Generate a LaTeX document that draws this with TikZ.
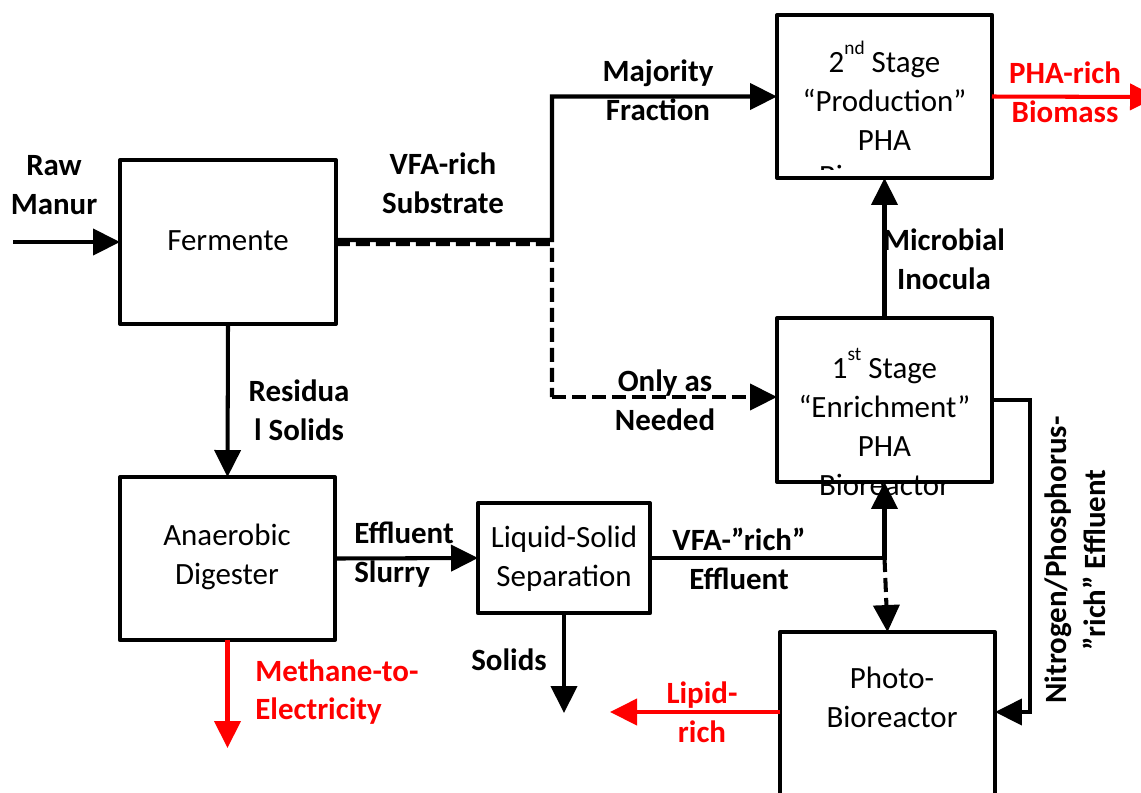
\documentclass[tikz,border=0pt]{standalone}
\usepackage{fontspec}
\setmainfont{Carlito}
\usetikzlibrary{arrows.meta}
\definecolor{flowred}{RGB}{255,0,0}
\newcommand{\supx}[1]{\raisebox{0.58em}{\fontsize{11pt}{11pt}\selectfont #1}}
\begin{document}
\begin{tikzpicture}[x=0.02cm,y=-0.02cm,
  box/.style={draw,line width=2.4pt,inner sep=0,outer sep=0,line join=round,minimum width=4.3cm},
  txt/.style={font=\fontsize{17.6pt}{22.1pt}\selectfont,align=center,inner sep=0},
  lbl/.style={font=\fontsize{17.6pt}{22.1pt}\selectfont\bfseries,align=center,inner sep=0},
  flow/.style={line width=2.3pt,-{Triangle[length=0.54cm,width=0.52cm]}},
  rflow/.style={line width=2.3pt,draw=flowred,-{Triangle[length=0.54cm,width=0.52cm]}},
  dashline/.style={dash pattern=on 0.28cm off 0.12cm}
]
\useasboundingbox[fill=white] (0,0) rectangle (1141,792);

% boxes
\node[box,minimum width=4.32cm,minimum height=3.28cm] (ferm) at (228,242) {};
\node[box,minimum height=3.26cm] (p2) at (884.5,96.5) {};
\node[box,minimum height=3.28cm] (p1) at (884.5,400) {};
\node[box,minimum height=3.26cm] (ad) at (227.5,558.5) {};
\node[box,minimum width=3.44cm,minimum height=2.2cm] (ls) at (564,558) {};
\node[box,minimum height=4cm] (photo) at (887.5,732) {};

% coordinates
\coordinate (rawin) at (13,242);
\coordinate (j1) at (552,240);
\coordinate (j3) at (552,244);
\coordinate (j4) at (884.5,558);
\coordinate (solend) at (564,713);
\coordinate (lipend) at (610,712);
\coordinate (meth) at (229,748);
\coordinate (phaend) at (1157,97);
\coordinate (n1) at (1030,400);
\coordinate (n2) at (1030,712);

% connectors
\draw[flow] (rawin) -- (ferm.west);
\draw[line width=2.3pt,dashline] ([yshift=-0.04cm]ferm.east) -- (j3) -- ([yshift=0.06cm]j3 |- p1.west);
\draw[flow,dashline] ([yshift=0.06cm]j3 |- p1.west) -- ([yshift=0.06cm]p1.west);
\draw[flow] ([yshift=0.04cm]ferm.east) -- (j1) |- (p2.west);
\draw[flow] (p1.north) -- (p2.south);
\draw[flow] (ferm.south) -- (ad.north);
\draw[flow] (ad.east) -- (ls.west);
\draw[flow] (ls.east) -| (p1.south);
\draw[flow,dashline] (j4) -- (photo.north);
\draw[flow] (ls.south) -- (solend);
\draw[rflow] (photo.west |- lipend) -- (lipend);
\draw[rflow] (ad.south) -- (ad.south |- meth);
\draw[rflow] (p2.east) -- (phaend);
\draw[flow] (p1.east) -- (n1) -- (n2) -- (photo.east |- n2);

% box texts
\node[txt] (tferm) at (228,241) {Fermente};
\node[txt] (tp2) at (884.5,96) {2\supx{nd} Stage\\“Production”\\PHA};
\begin{scope}
  \clip (800,158) rectangle (850,169);
  \node[txt] (tp2b) at (884.5,176) {Bioreactor};
\end{scope}
\node[txt] (tp1) at (884.5,422) {1\supx{st} Stage\\“Enrichment”\\PHA\\Bioreactor};
\node[txt] (tad) at (227,557) {Anaerobic\\Digester};
\node[txt] (tls) at (564,559) {Liquid-Solid\\Separation};
\node[txt] (tph) at (892,697) {Photo-\\Bioreactor};

% labels
\node[lbl] (lraw) at (54,185) {Raw\\Manur};
\node[lbl] (lvfa) at (443,183) {VFA-rich\\Substrate};
\node[lbl] (lmaj) at (658,90) {Majority\\Fraction};
\node[lbl] (lmic) at (944,259) {Microbial\\Inocula};
\node[lbl] (lonly) at (665,400) {Only as\\Needed};
\node[lbl] (lres) at (299,410) {Residua\\l Solids};
\node[lbl,align=left,anchor=west] (leff) at (354,555) {Effluent\\Slurry};
\node[lbl] (lvfa2) at (739,559) {VFA-”rich”\\Effluent};
\node[lbl] (lsol) at (509,660) {Solids};
\node[lbl,text=flowred] (llip) at (702,712) {Lipid-\\rich};
\node[lbl,text=flowred,align=left,anchor=west] (lmeth) at (255,692) {Methane-to-\\Electricity};
\node[lbl,text=flowred] (lpha) at (1065,92) {PHA-rich\\Biomass};
\node[lbl,rotate=90] (lnp) at (1075,560) {Nitrogen/Phosphorus-\\”rich” Effluent};
\end{tikzpicture}
\end{document}
